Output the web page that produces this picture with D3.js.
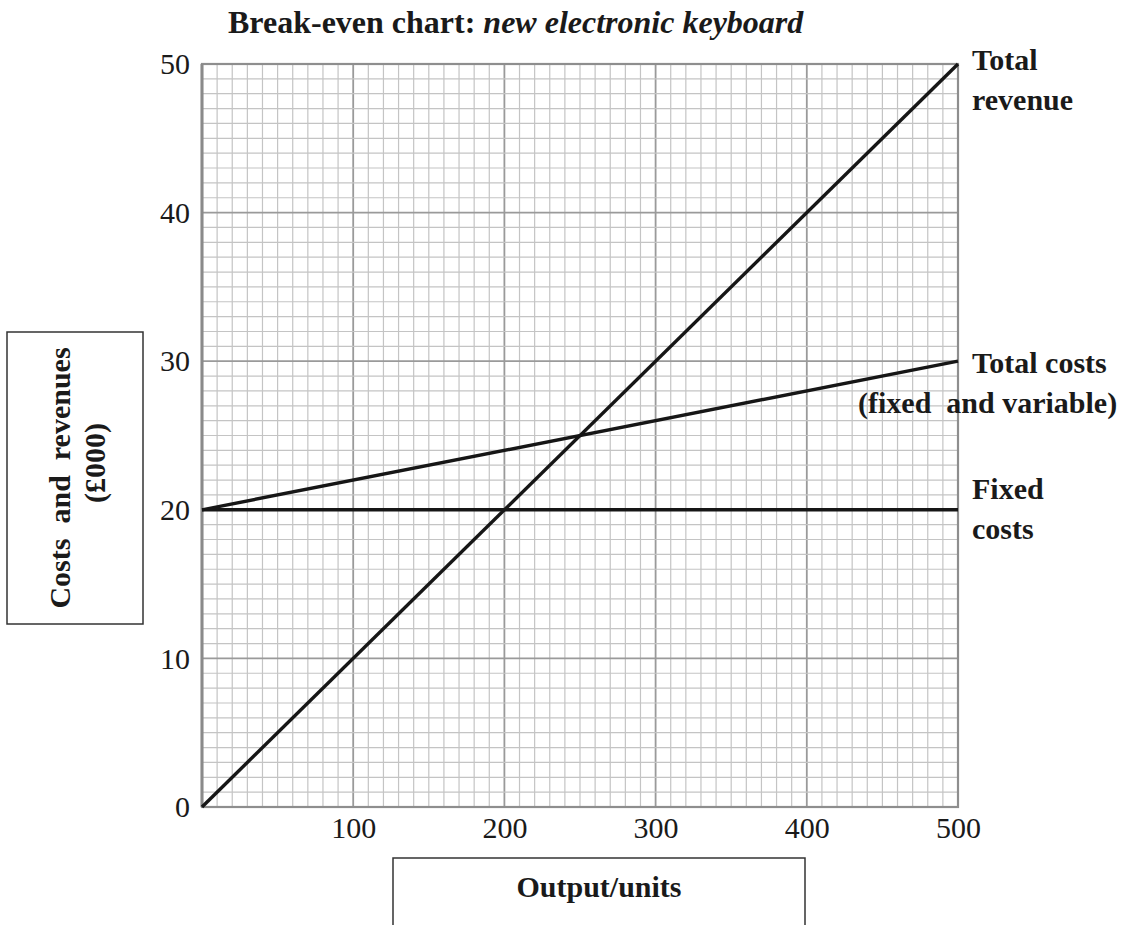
<!DOCTYPE html>
<html>
<head>
<meta charset="utf-8">
<script src="https://cdn.jsdelivr.net/npm/d3@7"></script>
<style>
  body { margin: 0; background: #fff; }
  svg text { font-family: "Liberation Serif", "Times New Roman", serif; fill: #1a1a1a; white-space: pre; }
</style>
</head>
<body>
<div id="chart"></div>
<script>
// Break-even chart data (values in £000, output in units)
const outputUnits = [0, 500];
const totalRevenue = [0, 50];
const totalCosts = [20, 30];
const fixedCosts = [20, 20];
const xTickValues = [100, 200, 300, 400, 500];
const yTickValues = [0, 10, 20, 30, 40, 50];

const width = 1128, height = 925;
const plot = { left: 202, right: 958, top: 64, bottom: 807 };

const svg = d3.select("#chart")
    .append("svg")
    .attr("width", width)
    .attr("height", height);

// Scales
const xScale = d3.scaleLinear().domain([0, 500]).range([plot.left, plot.right]);
const yScale = d3.scaleLinear().domain([0, 50]).range([plot.bottom, plot.top]);

// Graph paper grid: minor every 10 units / 1 (£000), major every 100 / 10
const grid = svg.append("g");
grid.selectAll(".vminor")
    .data(xScale.ticks(50))
    .enter().append("line")
    .attr("x1", d => xScale(d)).attr("x2", d => xScale(d))
    .attr("y1", plot.top).attr("y2", plot.bottom)
    .attr("stroke", d => d % 100 === 0 ? "#9a9a9a" : "#c4c4c4")
    .attr("stroke-width", d => d % 100 === 0 ? 1.8 : 1.2);

grid.selectAll(".hminor")
    .data(yScale.ticks(50))
    .enter().append("line")
    .attr("y1", d => yScale(d)).attr("y2", d => yScale(d))
    .attr("x1", plot.left).attr("x2", plot.right)
    .attr("stroke", d => d % 10 === 0 ? "#9a9a9a" : "#c4c4c4")
    .attr("stroke-width", d => d % 10 === 0 ? 1.8 : 1.2);

// Frame
grid.append("rect")
    .attr("x", plot.left).attr("y", plot.top)
    .attr("width", plot.right - plot.left)
    .attr("height", plot.bottom - plot.top)
    .attr("fill", "none")
    .attr("stroke", "#8e8e8e")
    .attr("stroke-width", 2.2);
grid.append("line")
    .attr("x1", plot.left).attr("x2", plot.left)
    .attr("y1", plot.top).attr("y2", plot.bottom)
    .attr("stroke", "#8a8a8a")
    .attr("stroke-width", 3);

// Axes (labels only)
const xAxis = svg.append("g")
    .attr("transform", `translate(0,${plot.bottom})`)
    .call(d3.axisBottom(xScale).tickValues(xTickValues).tickSize(0).tickPadding(10));
const yAxis = svg.append("g")
    .attr("transform", `translate(${plot.left},0)`)
    .call(d3.axisLeft(yScale).tickValues(yTickValues).tickSize(0).tickPadding(12));
[xAxis, yAxis].forEach(a => {
    a.select(".domain").remove();
    a.selectAll("text")
        .style("font-family", "'Liberation Serif', serif")
        .style("font-size", "30px")
        .attr("fill", "#1a1a1a");
});

// Lines
const series = [totalRevenue, totalCosts, fixedCosts];
const line = d3.line()
    .x((d, i) => xScale(outputUnits[i]))
    .y(d => yScale(d));
svg.selectAll(".series")
    .data(series)
    .enter().append("path")
    .attr("d", d => line(d))
    .attr("fill", "none")
    .attr("stroke", "#161616")
    .attr("stroke-width", 3.4);

// Line labels
function label(lines, x, y, dy, extraX) {
    const t = svg.append("text")
        .attr("x", x)
        .attr("y", y)
        .style("font-size", "30px")
        .style("font-weight", "bold");
    lines.forEach((s, i) => {
        t.append("tspan")
            .attr("x", x + (extraX && extraX[i] || 0))
            .attr("dy", i === 0 ? 0 : dy)
            .text(s);
    });
}
const xEnd = xScale(500) + 14;
label(["Total", "revenue"], xEnd, yScale(50) + 6, 40);
label(["Total costs", "(fixed  and variable)"], xEnd, yScale(30) + 12, 40, [0, -114]);
label(["Fixed", "costs"], xEnd, yScale(20) - 11, 40);

// Title
const title = svg.append("text")
    .attr("x", 228)
    .attr("y", 33)
    .style("font-size", "32px")
    .style("font-weight", "bold");
title.append("tspan").text("Break-even chart: ");
title.append("tspan").style("font-style", "italic").text("new electronic keyboard");

// Y axis title box
svg.append("rect")
    .attr("x", 7).attr("y", 332)
    .attr("width", 136).attr("height", 292)
    .attr("fill", "none")
    .attr("stroke", "#333")
    .attr("stroke-width", 1.5);
svg.append("text")
    .attr("transform", "translate(70,478) rotate(-90)")
    .attr("text-anchor", "middle")
    .style("font-size", "30px")
    .style("font-weight", "bold")
    .text("Costs  and  revenues");
svg.append("text")
    .attr("transform", "translate(105,463) rotate(-90)")
    .attr("text-anchor", "middle")
    .style("font-size", "30px")
    .style("font-weight", "bold")
    .text("(£000)");

// X axis title box (open at bottom)
svg.append("path")
    .attr("d", "M393,925 V858 H805 V925")
    .attr("fill", "none")
    .attr("stroke", "#333")
    .attr("stroke-width", 1.5);
svg.append("text")
    .attr("x", 599)
    .attr("y", 897)
    .attr("text-anchor", "middle")
    .style("font-size", "30px")
    .style("font-weight", "bold")
    .text("Output/units");
</script>
</body>
</html>
